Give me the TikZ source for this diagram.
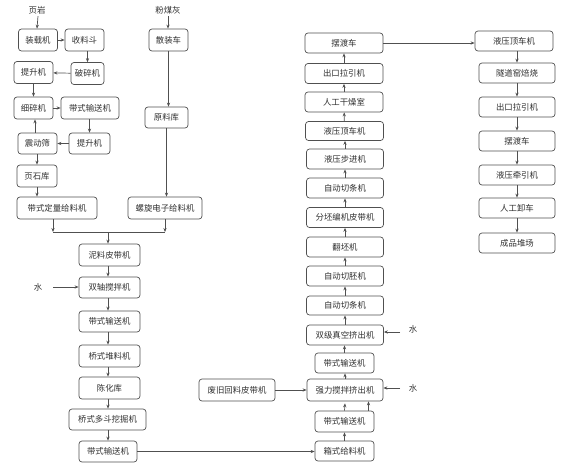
\documentclass[tikz,border=0pt]{standalone}
\usepackage{fontspec}
\newfontfamily\cjk{Noto Sans CJK SC}
\usetikzlibrary{arrows.meta}
\definecolor{ln}{HTML}{505050}
\definecolor{tx}{HTML}{303030}
\tikzset{
  box/.style={draw=ln, line width=0.7pt, rounded corners=3pt, minimum height=21pt, inner sep=0pt, text=tx, font=\cjk\fontsize{8.4}{9}\selectfont},
  lbl/.style={inner sep=0pt, text=tx, font=\cjk\fontsize{8.4}{9}\selectfont},
  arr/.style={draw=ln, line width=0.7pt, -{Stealth[length=4pt,width=3.2pt]}},
  ln/.style={draw=ln, line width=0.7pt}
}
\begin{document}
\begin{tikzpicture}[x=1pt,y=-1pt]
\useasboundingbox (0,0) rectangle (577,464);
% left cluster
\node[lbl] (t1) at (37,10) {页岩};
\node[box, minimum width=39pt, minimum height=22pt] (b1) at (38,40) {装载机};
\node[box, minimum width=39pt, minimum height=22pt] (b2) at (84.5,40) {收料斗};
\node[box, minimum width=33pt, minimum height=22pt] (b3) at (87.5,73.5) {破碎机};
\node[box, minimum width=39pt, minimum height=22pt] (b4) at (33.5,72.5) {提升机};
\node[box, minimum width=39pt, minimum height=22pt] (b5) at (33.5,108) {细碎机};
\node[box, minimum width=58pt, minimum height=22pt] (b6) at (90,108) {带式输送机};
\node[box, minimum width=39pt] (b7) at (37.5,143.5) {震动筛};
\node[box, minimum width=41pt] (b8) at (89.5,143.5) {提升机};
\node[box, minimum width=40pt, minimum height=22pt] (b9) at (37,176) {页石库};
\node[box, minimum width=80pt, minimum height=22pt] (b10) at (57,208) {带式定量给料机};
\node[lbl] (t2) at (168,10) {粉煤灰};
\node[box, minimum width=39pt, minimum height=22pt] (c1) at (168.5,40) {散装车};
\node[box, minimum width=43pt] (c2) at (166.5,117.5) {原料库};
\node[box, minimum width=74pt, minimum height=22pt] (c3) at (165,208) {螺旋电子给料机};
% middle column
\node[box, minimum width=61pt, minimum height=22pt] (d1) at (109.5,255) {泥料皮带机};
\node[box, minimum width=61pt] (d2) at (109.5,287.5) {双轴搅拌机};
\node[box, minimum width=61pt] (d3) at (109.5,321.5) {带式输送机};
\node[box, minimum width=61pt, minimum height=22pt] (d4) at (109.5,356) {桥式堆料机};
\node[box, minimum width=61pt, minimum height=22pt] (d5) at (109.5,388) {陈化库};
\node[box, minimum width=77pt] (d6) at (107.5,419.5) {桥式多斗挖掘机};
\node[box, minimum width=58pt] (d7) at (108,451.5) {带式输送机};
\node[lbl] (w1) at (38,287) {水};
% right column
\node[box, minimum width=78pt, minimum height=20pt] (e1) at (344,43) {摆渡车};
\node[box, minimum width=78pt, minimum height=20pt] (e2) at (344,73.5) {出口拉引机};
\node[box, minimum width=78pt, minimum height=20pt] (e3) at (344,102) {人工干燥室};
\node[box, minimum width=78pt, minimum height=19pt] (e4) at (344.5,131) {液压顶车机};
\node[box, minimum width=77pt, minimum height=20pt] (e5) at (345,159) {液压步进机};
\node[box, minimum width=77pt, minimum height=20pt] (e6) at (345,188) {自动切条机};
\node[box, minimum width=77pt, minimum height=20pt] (e7) at (345,217.5) {分坯编机皮带机};
\node[box, minimum width=77pt, minimum height=20pt] (e8) at (345,247) {翻坯机};
\node[box, minimum width=77pt, minimum height=20pt] (e9) at (345,276) {自动切胚机};
\node[box, minimum width=77pt, minimum height=19pt] (e10) at (345,305.5) {自动切条机};
\node[box, minimum width=77pt, minimum height=20pt] (e11) at (345,335) {双级真空挤出机};
\node[box, minimum width=59pt, minimum height=20pt] (e12) at (344.5,363) {带式输送机};
\node[box, minimum width=76pt, minimum height=22pt] (e13) at (345,390) {强力搅拌挤出机};
\node[box, minimum width=59pt, minimum height=21pt] (e14) at (344.5,421.5) {带式输送机};
\node[box, minimum width=59pt, minimum height=20pt] (e15) at (344.5,451) {箱式给料机};
\node[box, minimum width=76pt, minimum height=22pt] (f) at (237,390) {废旧回料皮带机};
\node[lbl] (w2) at (413,329) {水};
\node[lbl] (w3) at (413,388) {水};
% far right column
\node[box, minimum width=78pt, minimum height=20pt] (g1) at (514,41) {液压顶车机};
\node[box, minimum width=76pt, minimum height=20pt] (g2) at (517,73) {隧道窑焙烧};
\node[box, minimum width=76pt, minimum height=20pt] (g3) at (517,107) {出口拉引机};
\node[box, minimum width=76pt, minimum height=20pt] (g4) at (517,141) {摆渡车};
\node[box, minimum width=76pt, minimum height=20pt] (g5) at (517,175) {液压牵引机};
\node[box, minimum width=76pt, minimum height=20pt] (g6) at (517,208) {人工卸车};
\node[box, minimum width=76pt, minimum height=20pt] (g7) at (517,243) {成品堆场};
% junction coordinates
\coordinate (jl) at (53,232);
\coordinate (jr) at (165,232);
\coordinate (jm) at (108,232);
\coordinate (ww1) at (53,287);
\coordinate (ww2) at (400,332);
\coordinate (ww3) at (400,388);
% connectors left
\draw[arr] (t1.south -| b1) ++(0,2) -- (b1.north -| t1);
\draw[arr] (b1) -- (b2);
\draw[arr] (b3.north |- b2.south) -- (b3.north);
\draw[arr] (b3) -- (b4);
\draw[arr] (b4) -- (b5);
\draw[arr] (b5) -- (b6);
\draw[arr] (b8.north |- b6.south) -- (b8.north);
\draw[arr] (b8) -- (b7);
\draw[arr] ([xshift=-2.5pt]b7.north) -- ([xshift=-2.5pt]b7.north |- b5.south);
\draw[arr] (b9.north |- b7.south) -- (b9.north);
\draw[arr] (b9) -- (b10.north -| b9);
\draw[arr] (t2.south) ++(0,2) -- (c1.north -| t2);
\draw[arr] (c1) -- (c1 |- c2.north);
\draw[arr] (c2) -- (c2 |- c3.north);
\draw[arr] (b10.south -| jl) -- (jl);
\draw[arr] (c3.south -| jr) -- (jr);
\draw[ln] (jl) -- (jr);
\draw[arr] (jm) -- (jm |- d1.north);
% middle column
\draw[arr] (d1.south -| jm) -- (d2.north -| jm);
\draw[arr] (d2.south -| jm) -- (d3.north -| jm);
\draw[arr] (d3.south -| jm) -- (d4.north -| jm);
\draw[arr] (d4.south -| jm) -- (d5.north -| jm);
\draw[arr] (d5.south -| jm) -- (d6.north -| jm);
\draw[arr] (d6.south -| jm) -- (d7.north -| jm);
\draw[arr] (ww1) -- (d2.west |- ww1);
\draw[arr] (d7.east) -- (e15.west |- d7.east);
% right column upward
\draw[arr] (e15) -- (e15 |- e14.south);
\draw[arr] (e14.north) -- ([yshift=-2pt]e13.south);
\draw[arr] ([xshift=24pt]e14.north) -- ([xshift=24pt]e14.north |- e13.south);
\draw[arr] (e13) -- (e13 |- e12.south);
\draw[arr] (e12) -- (e12 |- e11.south);
\draw[arr] (e11) -- (e10);
\draw[arr] (e10) -- (e9);
\draw[arr] (e9) -- (e8);
\draw[arr] (e8) -- (e7);
\draw[arr] (e7) -- (e6);
\draw[arr] (e6) -- (e5);
\draw[arr] (e5) -- (e4.south -| e5);
\draw[arr] (e4) -- (e3);
\draw[arr] (e3) -- (e2);
\draw[arr] (e2) -- (e1);
\draw[arr] (f) -- (e13);
\draw[arr] (ww2) -- (e11.east |- ww2);
\draw[arr] (ww3) -- (e13.east |- ww3);
% far right
\draw[arr] (e1.east) -- (g1.west |- e1.east);
\draw[arr] (g2.north |- g1.south) -- (g2.north);
\draw[arr] (g2) -- (g3);
\draw[arr] (g3) -- (g4);
\draw[arr] (g4) -- (g5);
\draw[arr] (g5) -- (g6);
\draw[arr] (g6) -- (g7);
\end{tikzpicture}
\end{document}
